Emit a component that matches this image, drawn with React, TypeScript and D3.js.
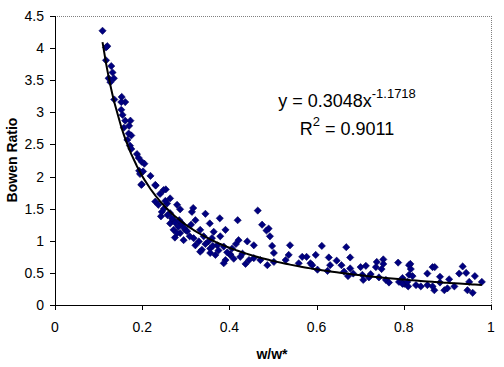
import * as d3 from "d3";

const W = 504;
const H = 367;
const left = 55;
const right = 491;
const top = 16;
const bottom = 305;

// w/w* values
const wRatio = [
  0.109, 0.12, 0.117, 0.117, 0.129, 0.132, 0.123, 0.135, 0.127, 0.136, 0.153, 0.161, 0.152, 0.152,
  0.155, 0.161, 0.173, 0.17, 0.158, 0.169, 0.175, 0.166, 0.172, 0.175, 0.188, 0.192, 0.199, 0.205,
  0.193, 0.202, 0.219, 0.199, 0.231, 0.254, 0.195, 0.198, 0.23, 0.249, 0.241, 0.23, 0.237, 0.264,
  0.257, 0.28, 0.287, 0.243, 0.264, 0.272, 0.272, 0.283, 0.295, 0.287, 0.314, 0.322, 0.345, 0.378,
  0.355, 0.312, 0.318, 0.333, 0.33, 0.364, 0.36, 0.356, 0.368, 0.391, 0.387, 0.391, 0.337, 0.299,
  0.317, 0.264, 0.28, 0.291, 0.309, 0.341, 0.352, 0.372, 0.379, 0.322, 0.465, 0.419, 0.475, 0.49,
  0.485, 0.493, 0.421, 0.441, 0.456, 0.498, 0.539, 0.406, 0.402, 0.425, 0.437, 0.456, 0.471, 0.487,
  0.502, 0.502, 0.536, 0.529, 0.559, 0.567, 0.577, 0.586, 0.598, 0.602, 0.612, 0.668, 0.628, 0.677,
  0.646, 0.631, 0.657, 0.59, 0.625, 0.663, 0.677, 0.672, 0.684, 0.701, 0.713, 0.705, 0.707, 0.724,
  0.72, 0.738, 0.736, 0.753, 0.753, 0.749, 0.743, 0.759, 0.766, 0.787, 0.789, 0.801, 0.812, 0.812,
  0.81, 0.815, 0.816, 0.82, 0.797, 0.797, 0.808, 0.828, 0.839, 0.854, 0.866, 0.871, 0.854, 0.87,
  0.866, 0.883, 0.883, 0.893, 0.904, 0.9, 0.916, 0.927, 0.935, 0.943, 0.946, 0.958, 0.95, 0.963,
  0.979, 0.356, 0.387, 0.333, 0.402, 0.25, 0.245, 0.258, 0.268, 0.276, 0.285, 0.296, 0.303, 0.253,
  0.275, 0.345, 0.362, 0.375, 0.395, 0.41, 0.43, 0.445, 0.415,
];

// Bowen ratio values, same order
const bowen = [
  4.27, 4.03, 4.01, 3.81, 3.72, 3.62, 3.53, 3.53, 3.47, 3.2, 3.24, 3.16, 3.16, 3.04,
  2.96, 2.87, 2.87, 2.79, 2.76, 2.67, 2.64, 2.57, 2.48, 2.43, 2.35, 2.29, 2.23, 2.2,
  2.09, 2.08, 2.01, 1.88, 1.86, 1.8, 2.04, 1.87, 1.87, 1.79, 1.73, 1.61, 1.56, 1.66,
  1.58, 1.56, 1.49, 1.38, 1.43, 1.32, 1.17, 1.22, 1.01, 1.12, 1.45, 1.32, 1.42, 1.35,
  1.27, 1.25, 1.04, 1.17, 0.99, 1.14, 1.04, 0.88, 0.78, 1.17, 0.91, 0.7, 0.86, 1.17,
  1.51, 1.27, 1.12, 1.27, 1.07, 1.07, 0.99, 0.93, 1.07, 0.93, 1.47, 1.32, 1.25, 1.19,
  1.16, 1.07, 1.01, 0.99, 0.93, 0.92, 0.93, 0.88, 0.78, 0.75, 0.64, 0.73, 0.7, 0.62,
  0.81, 0.67, 0.78, 0.7, 0.65, 0.75, 0.75, 0.65, 0.78, 0.55, 0.92, 0.9, 0.74, 0.74,
  0.69, 0.62, 0.62, 0.62, 0.53, 0.52, 0.57, 0.45, 0.49, 0.59, 0.61, 0.47, 0.39, 0.48,
  0.43, 0.67, 0.59, 0.71, 0.64, 0.56, 0.43, 0.39, 0.35, 0.66, 0.36, 0.33, 0.62, 0.47,
  0.29, 0.64, 0.56, 0.45, 0.42, 0.33, 0.36, 0.31, 0.29, 0.49, 0.59, 0.59, 0.31, 0.23,
  0.29, 0.44, 0.35, 0.23, 0.4, 0.26, 0.29, 0.49, 0.6, 0.5, 0.23, 0.19, 0.36, 0.45,
  0.36, 0.81, 0.65, 0.83, 0.79, 1.5, 1.45, 1.4, 1.35, 1.28, 1.32, 1.2, 1.15, 1.62,
  1.05, 0.95, 0.92, 0.85, 0.82, 0.72, 0.8, 0.7, 0.95,
];

const xTicks = [0, 0.2, 0.4, 0.6, 0.8, 1];
const yTicks = [0, 0.5, 1, 1.5, 2, 2.5, 3, 3.5, 4, 4.5];

// power trendline coefficients as shown on the chart
const trendA = 0.3048;
const trendB = -1.1718;

const x = d3.scaleLinear().domain([0, 1]).range([left, right]);
const y = d3.scaleLinear().domain([0, 4.5]).range([bottom, top]);

// square diamond like Excel's marker
const squareDiamond = {
  draw(ctx: any, size: number) {
    const r = Math.sqrt(size / 2);
    ctx.moveTo(0, -r);
    ctx.lineTo(r, 0);
    ctx.lineTo(0, r);
    ctx.lineTo(-r, 0);
    ctx.closePath();
  },
};
const diamond = d3.symbol().type(squareDiamond).size(26);

export default function App() {
  const xs = Array.from(new Set(wRatio)).sort((a, b) => a - b);
  const line = d3
    .line<number>()
    .x((d) => x(d))
    .y((d) => y(trendA * Math.pow(d, trendB)));

  const font = "'Liberation Sans', Arial, sans-serif";

  return (
    <svg
      width={W}
      height={H}
      style={{ position: "absolute", left: 0, top: 0, background: "white" }}
      fontFamily={font}
    >
      {/* plot area border */}
      <line x1={left} x2={right} y1={top + 0.5} y2={top + 0.5} stroke="#808080" strokeDasharray="1,1" />
      <line x1={right + 0.5} x2={right + 0.5} y1={top} y2={bottom} stroke="#808080" strokeDasharray="1,1" />

      {/* axes */}
      <line x1={left + 0.5} x2={left + 0.5} y1={top} y2={bottom} stroke="black" />
      <line x1={left} x2={right + 1} y1={bottom + 0.5} y2={bottom + 0.5} stroke="black" />

      {yTicks.map((t) => (
        <g key={"y" + t}>
          <line x1={left - 5} x2={left} y1={Math.round(y(t)) + 0.5} y2={Math.round(y(t)) + 0.5} stroke="black" />
          <text x={44} y={y(t) + 5} textAnchor="end" fontSize={14}>
            {t}
          </text>
        </g>
      ))}
      {xTicks.map((t) => (
        <g key={"x" + t}>
          <line x1={Math.round(x(t)) + 0.5} x2={Math.round(x(t)) + 0.5} y1={bottom} y2={bottom + 5} stroke="black" />
          <text x={x(t)} y={332} textAnchor="middle" fontSize={14}>
            {t}
          </text>
        </g>
      ))}

      {wRatio.map((d, i) => (
        <path
          key={i}
          d={diamond()!}
          transform={`translate(${x(d)},${y(bowen[i])})`}
          fill="#000080"
          stroke="#00005a"
          strokeWidth={0.6}
        />
      ))}

      <path d={line(xs)!} fill="none" stroke="black" strokeWidth={2} />

      <text x={347} y={107} textAnchor="middle" fontSize={18}>
        y = 0.3048x
        <tspan fontSize={13} dy={-9}>
          -1.1718
        </tspan>
      </text>
      <text x={347} y={135} textAnchor="middle" fontSize={18}>
        R
        <tspan fontSize={13} dy={-9}>
          2
        </tspan>
        <tspan dy={9}> = 0.9011</tspan>
      </text>

      <text transform="translate(17,160) rotate(-90)" textAnchor="middle" fontSize={14} fontWeight="bold">
        Bowen Ratio
      </text>
      <text x={272} y={359} textAnchor="middle" fontSize={14} fontWeight="bold">
        w/w*
      </text>
    </svg>
  );
}
